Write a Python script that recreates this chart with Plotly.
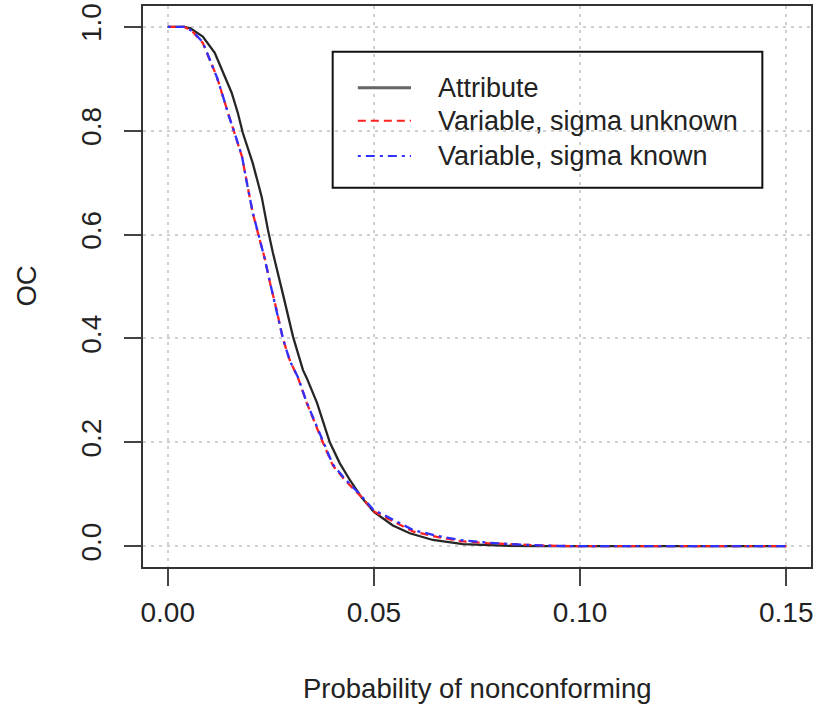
import plotly.graph_objects as go

# ---- data ----
p_attr = [0.000, 0.004, 0.0055, 0.0085, 0.0114, 0.0134, 0.0155, 0.0170, 0.0182, 0.0206,
          0.0228, 0.0243, 0.0255, 0.0277, 0.0304, 0.0328, 0.0337, 0.0362, 0.0393, 0.0417,
          0.0442, 0.0470, 0.0500, 0.0546, 0.0587, 0.0643, 0.0716, 0.0813, 0.0900, 0.1500]
oc_attr = [1.000, 1.000, 0.997, 0.981, 0.950, 0.911, 0.873, 0.834, 0.796, 0.738,
           0.672, 0.609, 0.565, 0.493, 0.403, 0.339, 0.324, 0.276, 0.200, 0.160,
           0.127, 0.094, 0.066, 0.040, 0.025, 0.012, 0.004, 0.001, 0.000, 0.000]

p_var_unk = [0.000, 0.004, 0.0061, 0.0085, 0.0102, 0.0119, 0.0134, 0.0146, 0.0160, 0.0180,
             0.0192, 0.0206, 0.0223, 0.0235, 0.0248, 0.0264, 0.0279, 0.0296, 0.0316, 0.0337,
             0.0374, 0.0400, 0.0430, 0.0466, 0.0500, 0.0523, 0.0556, 0.0596, 0.0653, 0.0709,
             0.0774, 0.0830, 0.0920, 0.1000, 0.1500]
oc_var_unk = [1.000, 1.000, 0.990, 0.969, 0.936, 0.904, 0.865, 0.834, 0.800, 0.750,
              0.700, 0.642, 0.590, 0.555, 0.507, 0.455, 0.400, 0.358, 0.324, 0.276,
              0.204, 0.156, 0.127, 0.098, 0.067, 0.058, 0.044, 0.028, 0.018, 0.010,
              0.006, 0.004, 0.001, 0.000, 0.000]

p_var_kn = [0.000, 0.004, 0.0061, 0.0085, 0.0102, 0.0119, 0.0134, 0.0146, 0.0160, 0.0180,
            0.0192, 0.0206, 0.0223, 0.0235, 0.0248, 0.0264, 0.0279, 0.0296, 0.0316, 0.0337,
            0.0374, 0.0400, 0.0430, 0.0466, 0.0500, 0.0523, 0.0556, 0.0596, 0.0653, 0.0709,
            0.0774, 0.0830, 0.0920, 0.1000, 0.1500]
oc_var_kn = [1.000, 1.000, 0.991, 0.970, 0.937, 0.903, 0.866, 0.833, 0.801, 0.751,
             0.699, 0.643, 0.591, 0.554, 0.508, 0.454, 0.401, 0.357, 0.325, 0.277,
             0.205, 0.158, 0.129, 0.100, 0.069, 0.061, 0.047, 0.031, 0.020, 0.012,
             0.007, 0.004, 0.001, 0.000, 0.000]

series_names = ["Attribute", "Variable, sigma unknown", "Variable, sigma known"]
x_ticks = [0.00, 0.05, 0.10, 0.15]
x_tick_labels = ["0.00", "0.05", "0.10", "0.15"]
y_ticks = [0.0, 0.2, 0.4, 0.6, 0.8, 1.0]
y_tick_labels = ["0.0", "0.2", "0.4", "0.6", "0.8", "1.0"]

FONT = "Liberation Sans, Arial, Helvetica, sans-serif"
TXT = "#222222"

fig = go.Figure()
fig.add_trace(go.Scatter(x=p_attr, y=oc_attr, mode="lines", name=series_names[0],
                         line=dict(color="#262626", width=2.3), showlegend=False))
fig.add_trace(go.Scatter(x=p_var_unk, y=oc_var_unk, mode="lines", name=series_names[1],
                         line=dict(color="#ff2020", width=2.3, dash="8px,5px"), showlegend=False))
fig.add_trace(go.Scatter(x=p_var_kn, y=oc_var_kn, mode="lines", name=series_names[2],
                         line=dict(color="#3030ff", width=2.3, dash="3px,5px,9px,5px"), showlegend=False))

# manual R-style legend box
lx0, lx1, ly0, ly1 = 0.0400, 0.1442, 0.690, 0.952
row_y = [0.8825, 0.8189, 0.7514]
line_x0, line_x1, text_x = 0.0461, 0.0590, 0.0650
styles = [dict(color="#666666", width=3), dict(color="#ff2020", width=2, dash="8px,5px"),
          dict(color="#3030ff", width=2, dash="3px,5px,9px,5px")]
shapes = [dict(type="rect", xref="x", yref="y", x0=lx0, x1=lx1, y0=ly0, y1=ly1,
               line=dict(color="#111111", width=2), fillcolor="rgba(0,0,0,0)")]
annotations = []
for name, yy, st in zip(series_names, row_y, styles):
    shapes.append(dict(type="line", xref="x", yref="y", x0=line_x0, x1=line_x1, y0=yy, y1=yy, line=st))
    annotations.append(dict(x=text_x, y=yy, xref="x", yref="y", text=name, showarrow=False,
                            xanchor="left", yanchor="middle",
                            font=dict(family=FONT, size=27, color=TXT)))

# axis titles
annotations.append(dict(x=0.5, y=-0.2157, xref="paper", yref="paper", text="Probability of nonconforming",
                        showarrow=False, xanchor="center", yanchor="middle",
                        font=dict(family=FONT, size=27.5, color=TXT)))
annotations.append(dict(x=-0.175, y=0.5, xref="paper", yref="paper", text="OC", textangle=-90,
                        showarrow=False, xanchor="center", yanchor="middle",
                        font=dict(family=FONT, size=27.5, color=TXT)))

fig.update_layout(
    width=817, height=705,
    margin=dict(l=143, r=6, t=6, b=138, autoexpand=False),
    paper_bgcolor="white", plot_bgcolor="white",
    shapes=shapes, annotations=annotations,
    showlegend=False,
)
fig.update_xaxes(range=[-0.006, 0.156], tickvals=x_ticks, ticktext=x_tick_labels,
                 automargin=False,
                 showline=True, mirror=True, linecolor="#333333", linewidth=2,
                 ticks="outside", ticklen=17, tickwidth=2, tickcolor="#444444",
                 ticklabelstandoff=2,
                 showgrid=True, gridcolor="#cfcfcf", gridwidth=1.5, griddash="3px,5px",
                 zeroline=False, tickfont=dict(family=FONT, size=28, color=TXT))
fig.update_yaxes(range=[-0.04, 1.04], tickvals=y_ticks, ticktext=y_tick_labels,
                 automargin=False,
                 showline=True, mirror=True, linecolor="#333333", linewidth=2,
                 ticks="outside", ticklen=17, tickwidth=2, tickcolor="#444444",
                 tickangle=-90, ticklabelstandoff=12,
                 showgrid=True, gridcolor="#cfcfcf", gridwidth=1.5, griddash="3px,5px",
                 zeroline=False, tickfont=dict(family=FONT, size=28, color=TXT))

fig.write_html("out.html", config={"displayModeBar": False},
               post_script="document.body.style.margin='0';document.body.style.overflow='hidden';")
